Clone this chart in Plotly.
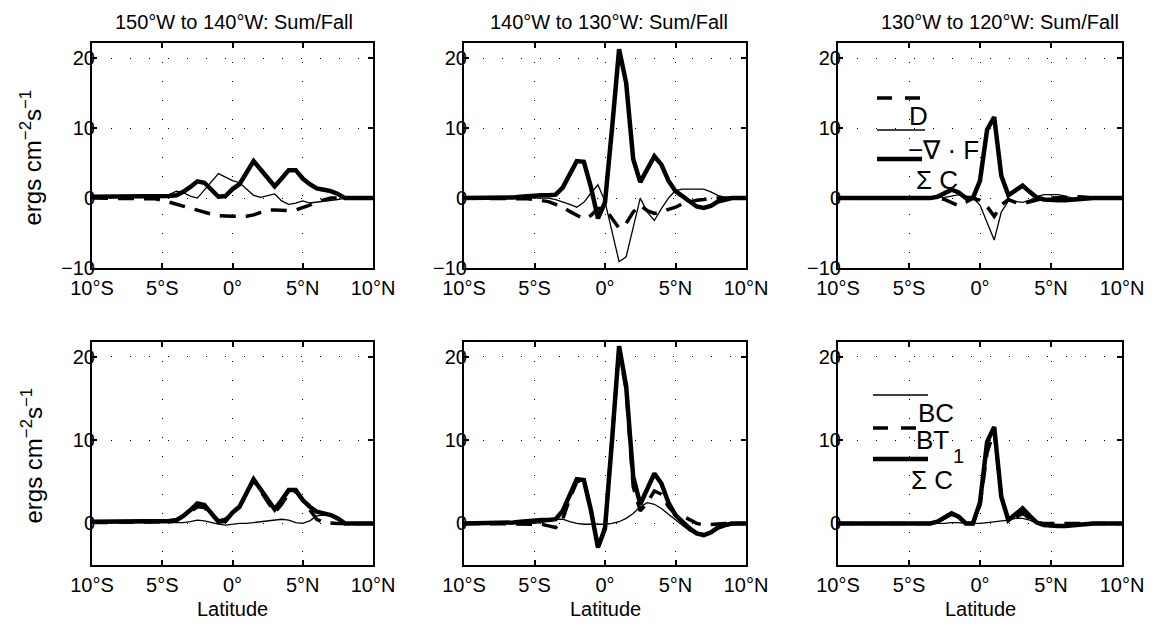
import plotly.graph_objects as go

W, H = 1155, 626

# ---------------- data ----------------
lat = [-10.0, -9.5, -9.0, -8.5, -8.0, -7.5, -7.0, -6.5, -6.0, -5.5,
       -5.0, -4.5, -4.0, -3.5, -3.0, -2.5, -2.0, -1.5, -1.0, -0.5,
       0.0, 0.5, 1.0, 1.5, 2.0, 2.5, 3.0, 3.5, 4.0, 4.5,
       5.0, 5.5, 6.0, 6.5, 7.0, 7.5, 8.0, 8.5, 9.0, 9.5,
       10.0]

x_tickvals = [-10, -5, 0, 5, 10]
x_ticktext = ["10°S", "5°S", "0°", "5°N", "10°N"]

titles = ["150°W to 140°W: Sum/Fall", "140°W to 130°W: Sum/Fall", "130°W to 120°W: Sum/Fall"]

# 150W-140W
sc_150 = [0.2, 0.2, 0.2, 0.2, 0.2, 0.2, 0.2, 0.2, 0.2, 0.2,
          0.2, 0.3, 0.4, 0.9, 1.6, 2.4, 2.2, 1.1, 0.2, 0.3,
          1.3, 2.0, 3.7, 5.3, 4.1, 2.9, 1.7, 2.8, 4.0, 4.0,
          2.8, 2.0, 1.4, 1.2, 1.0, 0.6, 0.0, 0.0, 0.0, 0.0,
          0.0]
divf_150 = [0.2, 0.2, 0.2, 0.2, 0.2, 0.2, 0.2, 0.2, 0.2, 0.2,
            0.2, 0.5, 1.0, 0.8, 0.3, 0.0, 1.2, 2.4, 3.5, 3.0,
            2.5, 2.2, 1.3, 0.4, 0.1, 0.4, 0.6, -0.4, -0.9, -0.7,
            -0.4, -0.7, -0.6, -0.5, -0.4, -0.2, 0.0, 0.0, 0.0, 0.0,
            0.0]
d_150 = [0.0, 0.0, 0.0, 0.0, 0.0, 0.0, 0.0, 0.0, 0.0, -0.1,
         -0.3, -0.6, -0.9, -1.2, -1.5, -1.8, -2.1, -2.3, -2.5, -2.6,
         -2.6, -2.6, -2.6, -2.4, -2.0, -1.7, -1.7, -1.8, -1.8, -1.7,
         -1.4, -1.0, -0.5, -0.2, 0.0, 0.0, 0.0, 0.0, 0.0, 0.0,
         0.0]
bc_150 = [0.1, 0.1, 0.1, 0.1, 0.1, 0.1, 0.1, 0.1, 0.1, 0.1,
          0.1, 0.1, 0.1, 0.1, 0.2, 0.4, 0.3, 0.1, -0.1, -0.2,
          -0.1, 0.0, 0.0, 0.1, 0.2, 0.3, 0.4, 0.5, 0.4, 0.1,
          0.0, 0.3, 0.9, 1.0, 0.9, 0.5, 0.0, 0.0, 0.0, 0.0,
          0.0]
bt_150 = [0.1, 0.1, 0.1, 0.1, 0.1, 0.1, 0.1, 0.1, 0.1, 0.1,
          0.1, 0.2, 0.3, 0.8, 1.4, 2.0, 1.9, 1.0, 0.3, 0.5,
          1.4, 2.0, 3.7, 5.2, 3.9, 2.6, 1.3, 2.3, 3.6, 3.9,
          2.8, 1.7, 0.5, 0.1, 0.0, 0.0, 0.0, 0.0, 0.0, 0.0,
          0.0]

# 140W-130W
sc_140 = [0.0, 0.0, 0.0, 0.0, 0.0, 0.0, 0.0, 0.1, 0.2, 0.3,
          0.4, 0.4, 0.4, 0.5, 1.5, 3.5, 5.3, 5.2, 1.6, -2.9,
          -0.6, 10.0, 21.3, 16.5, 5.6, 2.3, 4.0, 6.0, 4.8, 2.5,
          1.0, 0.2, -0.6, -1.2, -1.4, -1.1, -0.5, -0.2, 0.0, 0.0,
          0.0]
divf_140 = [0.0, 0.0, 0.0, 0.0, 0.0, 0.0, 0.0, 0.0, 0.0, 0.0,
            0.0, 0.0, 0.0, -0.2, -0.5, -0.9, -1.3, -0.6, 0.7, 1.9,
            -0.5, -4.8, -9.1, -8.4, -4.2, 0.0, -2.0, -3.2, -1.5, 0.0,
            1.1, 1.3, 1.3, 1.3, 1.3, 0.9, 0.4, 0.1, 0.0, 0.0,
            0.0]
d_140 = [0.0, 0.0, 0.0, 0.0, 0.0, 0.0, 0.0, 0.0, 0.0, -0.1,
         -0.2, -0.3, -0.5, -0.9, -1.3, -1.9, -2.5, -3.0, -2.5, -1.5,
         -1.5, -3.0, -4.3, -3.6, -2.0, -1.0, -1.8, -2.2, -2.0, -1.6,
         -1.3, -0.8, -0.5, -0.3, -0.2, 0.0, 0.0, 0.0, 0.0, 0.0,
         0.0]
bc_140 = [0.0, 0.0, 0.0, 0.0, 0.0, 0.0, 0.0, 0.0, 0.0, 0.0,
          0.0, 0.1, 0.3, 0.5, 0.5, 0.2, 0.0, -0.1, -0.1, -0.1,
          -0.1, 0.0, 0.2, 0.6, 1.2, 2.0, 2.5, 2.3, 1.8, 1.1,
          0.4, -0.3, -0.9, -1.3, -1.4, -1.1, -0.7, -0.4, -0.2, -0.1,
          0.0]
bt_140 = [0.0, 0.0, 0.0, 0.0, 0.0, 0.0, 0.0, 0.0, 0.0, 0.0,
          0.0, -0.1, -0.3, -0.5, 0.5, 3.0, 5.0, 5.3, 1.6, -2.7,
          -0.4, 10.5, 21.0, 16.0, 4.4, 1.5, 2.5, 3.9, 3.5, 2.0,
          1.1, 0.9, 0.5, 0.0, -0.2, -0.1, 0.0, 0.0, 0.0, 0.0,
          0.0]

# 130W-120W
sc_130 = [0.0, 0.0, 0.0, 0.0, 0.0, 0.0, 0.0, 0.0, 0.0, 0.0,
          0.0, 0.0, 0.0, 0.0, 0.2, 0.7, 1.2, 0.8, 0.0, 0.0,
          2.5, 9.8, 11.6, 3.2, 0.4, 1.1, 1.8, 0.9, 0.1, -0.2,
          -0.3, -0.3, -0.3, -0.2, -0.1, 0.0, 0.0, 0.0, 0.0, 0.0,
          0.0]
divf_130 = [0.0, 0.0, 0.0, 0.0, 0.0, 0.0, 0.0, 0.0, 0.0, 0.0,
            0.0, 0.0, 0.0, 0.0, 0.0, 0.1, 0.3, 0.5, 0.3, 0.0,
            -1.0, -3.5, -6.0, -2.0, -0.4, -0.5, -0.6, -0.3, 0.2, 0.5,
            0.5, 0.5, 0.3, 0.0, 0.0, 0.0, 0.0, 0.0, 0.0, 0.0,
            0.0]
d_130 = [0.0, 0.0, 0.0, 0.0, 0.0, 0.0, 0.0, 0.0, 0.0, 0.0,
         0.0, 0.0, 0.0, 0.0, 0.0, -0.2, -0.6, -1.1, -0.6, 0.0,
         -0.3, -1.2, -2.6, -1.0, -0.2, -0.6, -0.8, -0.5, -0.2, 0.0,
         0.0, 0.0, 0.0, 0.1, 0.2, 0.1, 0.0, 0.0, 0.0, 0.0,
         0.0]
bc_130 = [0.0, 0.0, 0.0, 0.0, 0.0, 0.0, 0.0, 0.0, 0.0, 0.0,
          0.0, 0.0, 0.0, 0.0, 0.0, 0.0, 0.1, 0.1, 0.0, 0.0,
          0.0, 0.1, 0.2, 0.3, 0.4, 0.6, 0.6, 0.4, 0.0, -0.3,
          -0.4, -0.4, -0.3, -0.2, -0.2, -0.1, 0.0, 0.0, 0.0, 0.0,
          0.0]
bt_130 = [0.0, 0.0, 0.0, 0.0, 0.0, 0.0, 0.0, 0.0, 0.0, 0.0,
          0.0, 0.0, 0.0, 0.0, 0.2, 0.6, 1.1, 0.8, 0.0, 0.0,
          2.2, 8.5, 11.2, 3.3, 0.2, 0.7, 1.2, 0.6, 0.1, 0.0,
          0.0, 0.0, 0.0, 0.0, 0.0, 0.0, 0.0, 0.0, 0.0, 0.0,
          0.0]

# ---------------- layout helpers ----------------
FONT = "Liberation Sans, Arial, Helvetica, sans-serif"
col_px = [(92, 373), (464, 746), (838, 1122)]
row_px = [(43, 268), (342, 565)]


def px_x(p):
    return p / W


def px_y(p):
    return 1 - p / H


THICK = dict(color="black", width=4.5)
THIN = dict(color="black", width=1.3)
DASHED = dict(color="black", width=3.5, dash="16px,10px")

top_series = [(sc_150, divf_150, d_150), (sc_140, divf_140, d_140), (sc_130, divf_130, d_130)]
bot_series = [(sc_150, bc_150, bt_150), (sc_140, bc_140, bt_140), (sc_130, bc_130, bt_130)]

fig = go.Figure()
layout = dict(
    template="none",
    width=W, height=H,
    margin=dict(l=0, r=0, t=0, b=0, pad=0),
    paper_bgcolor="white", plot_bgcolor="white",
    showlegend=False,
    font=dict(family=FONT, color="black", size=20),
)

annotations = []
shapes = []

for r in range(2):
    for c in range(3):
        i = r * 3 + c + 1
        xa = "x" if i == 1 else f"x{i}"
        ya = "y" if i == 1 else f"y{i}"
        xkey = "xaxis" if i == 1 else f"xaxis{i}"
        ykey = "yaxis" if i == 1 else f"yaxis{i}"
        x0, x1 = col_px[c]
        y0, y1 = row_px[r]
        if r == 0:
            thick, thin, dashed = top_series[c]
            yrange = [-10, 22.2]
            ytv = [-10, 0, 10, 20]
        else:
            thick, thin, dashed = bot_series[c]
            yrange = [-5, 21.8]
            ytv = [0, 10, 20]
        fig.add_trace(go.Scatter(x=lat, y=thin, mode="lines", line=THIN, xaxis=xa, yaxis=ya))
        fig.add_trace(go.Scatter(x=lat, y=dashed, mode="lines", line=DASHED, xaxis=xa, yaxis=ya))
        fig.add_trace(go.Scatter(x=lat, y=thick, mode="lines", line=THICK, xaxis=xa, yaxis=ya))

        common = dict(
            automargin=False,
            showline=True, linecolor="black", linewidth=2, mirror="allticks",
            ticks="inside", ticklen=5, tickwidth=1.5, tickcolor="black",
            showgrid=True, gridcolor="black", gridwidth=1, griddash="1px,18px",
            zeroline=False, tickfont=dict(family=FONT, size=20, color="black"),
        )
        layout[xkey] = dict(
            common, domain=[px_x(x0), px_x(x1)], anchor=ya, range=[-10, 10],
            tickmode="array", tickvals=x_tickvals, ticktext=x_ticktext,
            ticklabelstandoff=1,
        )
        layout[ykey] = dict(
            common, domain=[px_y(y1), px_y(y0)], anchor=xa, range=yrange,
            tickmode="array", tickvals=ytv, ticktext=[f"{v:g}".replace("-", "\u2212") for v in ytv],
            ticklabelstandoff=-9,
        )

        if r == 0:
            title_cx = [234, 609, 1000][c]
            annotations.append(dict(
                text=titles[c], x=px_x(title_cx), y=px_y(22), xref="paper", yref="paper",
                showarrow=False, xanchor="center", yanchor="middle",
                font=dict(family=FONT, size=20, color="black")))
        else:
            annotations.append(dict(
                text="Latitude", x=px_x((x0 + x1) / 2), y=px_y(609), xref="paper", yref="paper",
                showarrow=False, xanchor="center", yanchor="middle",
                font=dict(family=FONT, size=20, color="black")))
        if c == 0:
            annotations.append(dict(
                text="ergs cm<sup>\u22122</sup>s<sup>\u22121</sup>", textangle=-90,
                x=px_x(31), y=px_y((y0 + y1) / 2 + 2), xref="paper", yref="paper",
                showarrow=False, xanchor="center", yanchor="middle",
                font=dict(family=FONT, size=24, color="black")))


# ---------------- in-panel legends ----------------
def leg_line(xa_px, xb_px, y_px, line):
    shapes.append(dict(type="line", xref="paper", yref="paper",
                       x0=px_x(xa_px), x1=px_x(xb_px), y0=px_y(y_px), y1=px_y(y_px),
                       line=line))


def leg_text(txt, cx, cy, size=26, xanchor="center"):
    annotations.append(dict(text=txt, x=px_x(cx), y=px_y(cy), xref="paper", yref="paper",
                            showarrow=False, xanchor=xanchor, yanchor="middle",
                            font=dict(family=FONT, size=size, color="black")))


# top-right panel legend
leg_line(877, 921, 98, dict(color="black", width=3.5, dash="15px,13px"))
leg_line(877, 925, 130, dict(color="black", width=1.3))
leg_line(877, 922, 159, dict(color="black", width=4.5))
leg_text("D", 918, 116)
leg_text("\u2212\u2207 \u00b7 F", 906, 150, xanchor="left")
leg_text("\u03a3 C", 937, 180)

# bottom-right panel legend
leg_line(873, 928, 395, dict(color="black", width=1.3))
leg_line(873, 920, 428, dict(color="black", width=3.5, dash="15px,13px"))
leg_line(873, 928, 459, dict(color="black", width=4.5))
leg_text("BC", 936, 413)
leg_text("BT", 932, 440)
leg_text("1", 958, 456, size=20)
leg_text("\u03a3 C", 932, 480)

layout["annotations"] = annotations
layout["shapes"] = shapes
fig.update_layout(**layout)

fig.write_html("out.html")
